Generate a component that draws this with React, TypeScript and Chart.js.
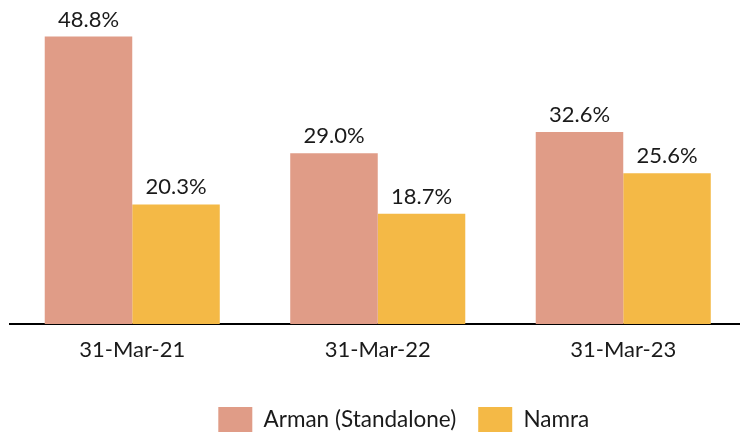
import React, { useEffect, useRef } from "react";
import { Chart, registerables } from "chart.js";

Chart.register(...registerables);

const categories = ["31-Mar-21", "31-Mar-22", "31-Mar-23"];
const armanValues = [48.8, 29.0, 32.6];
const namraValues = [20.3, 18.7, 25.6];
const seriesNames = ["Arman (Standalone)", "Namra"];
const seriesColors = ["#E09C87", "#F4B946"];

const FONT = "Lato, 'Open Sans', sans-serif";

const valueLabels = {
  id: "valueLabels",
  afterDatasetsDraw(chart: any) {
    const ctx = chart.ctx;
    ctx.save();
    ctx.font = `22px ${FONT}`;
    ctx.fillStyle = "#1a1a1a";
    ctx.textAlign = "center";
    ctx.textBaseline = "alphabetic";
    chart.data.datasets.forEach((ds: any, i: number) => {
      const meta = chart.getDatasetMeta(i);
      meta.data.forEach((el: any, j: number) => {
        const v = ds.data[j];
        ctx.fillText(v.toFixed(1) + "%", el.x, el.y - 10);
      });
    });
    ctx.restore();
  },
};

const shiftLegend = {
  id: "shiftLegend",
  afterLayout(chart: any) {
    const lg = chart.legend;
    if (lg) {
      lg.left += 26;
      lg.right += 26;
    }
  },
};

export default function App() {
  const ref = useRef<HTMLCanvasElement | null>(null);
  useEffect(() => {
    if (!ref.current) return;
    const chart = new Chart(ref.current, {
      type: "bar",
      data: {
        labels: categories,
        datasets: [
          {
            label: seriesNames[0],
            data: armanValues,
            backgroundColor: seriesColors[0],
            categoryPercentage: 0.713,
            barPercentage: 1,
          },
          {
            label: seriesNames[1],
            data: namraValues,
            backgroundColor: seriesColors[1],
            categoryPercentage: 0.713,
            barPercentage: 1,
          },
        ],
      },
      options: {
        animation: false,
        responsive: true,
        maintainAspectRatio: false,
        layout: { padding: { left: 9.5, right: 0, top: 0, bottom: 0 } },
        plugins: {
          legend: {
            position: "bottom",
            labels: {
              boxWidth: 34,
              boxHeight: 25,
              padding: 22,
              color: "#1a1a1a",
              font: { family: FONT, size: 22.5 },
            },
          },
          tooltip: { enabled: false },
        },
        scales: {
          x: {
            grid: { display: false },
            border: { display: true, color: "#000", width: 2 },
            ticks: {
              color: "#1a1a1a",
              font: { family: FONT, size: 22 },
              padding: 5,
            },
            afterFit(scale: any) {
              scale.height = 61;
            },
          },
          y: {
            display: false,
            min: 0,
            max: 55,
          },
        },
      },
      plugins: [valueLabels, shiftLegend],
    });
    return () => chart.destroy();
  }, []);
  return (
    <div style={{ position: "fixed", left: 0, top: 0, width: 740, height: 432, overflow: "hidden", background: "#fff" }}>
      <div style={{ position: "absolute", left: 0, top: 0, width: 746, height: 442 }}>
        <canvas ref={ref} />
      </div>
    </div>
  );
}
